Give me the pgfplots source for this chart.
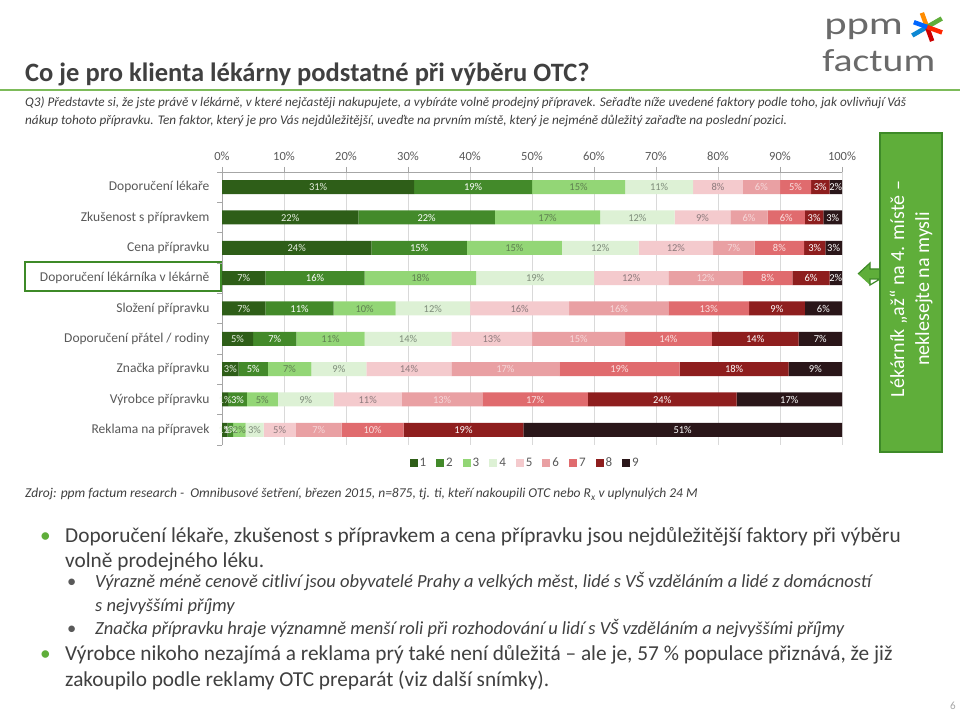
\documentclass[border=0pt]{standalone}
\usepackage{pgfplots}
\pgfplotsset{compat=1.18}
\usepackage{pgfplotstable}
\usepackage{fontspec}
\setmainfont{Carlito}
\definecolor{cA}{HTML}{2E5E18}
\definecolor{cB}{HTML}{438A2A}
\definecolor{cC}{HTML}{93D676}
\definecolor{cD}{HTML}{DDF1D5}
\definecolor{cE}{HTML}{F4CACD}
\definecolor{cF}{HTML}{E9A0A3}
\definecolor{cG}{HTML}{E06B6E}
\definecolor{cH}{HTML}{8E1E1E}
\definecolor{cI}{HTML}{2A1619}
\definecolor{tA}{HTML}{E8F0E2}
\definecolor{tC}{HTML}{5E7F50}
\definecolor{tD}{HTML}{7E8C7A}
\definecolor{tE}{HTML}{8C7A7C}
\definecolor{tF}{HTML}{F6D8DA}
\definecolor{tG}{HTML}{FAE2E2}
\definecolor{txt}{HTML}{404040}
\definecolor{lbl}{HTML}{595959}
\definecolor{axisgray}{HTML}{A6A6A6}
\definecolor{gridgray}{HTML}{D9D9D9}
\definecolor{grn}{HTML}{5FAE3A}
\definecolor{grnd}{HTML}{3E8A28}
\definecolor{lineg}{HTML}{7DBB5A}

\pgfplotstableread{
y  a    b    c    d    e    f    g    h    i
8  31   19   15   11   8    6    5    3    2
7  22   22   17   12   9    6    6    3    3
6  24.1 15.4 15.3 12.4 12.0 6.7  8.0  3.4  2.7
5  7    16   18   19   12   12   8    6    2
4  7    11   10   12   16   16   13   9    6
3  5    7    11   14   13   15   14   14   7
2  2.7  4.7  7.0  8.9  13.7 17.4 19.4 17.6 8.6
1  1    3    5    9    11   13   17   24   17
0  0.9  0.9  2.0  2.9  5.2  7.4  10.0 19.3 51.4
}\data

\newcommand\seg[2]{%
  \addplot[fill=#2, draw=none] table[x=#1,y=y]{\data};
}
\newcommand\lab[3]{%
  \addplot[only marks, mark=*, mark size=0pt, mark options={draw=none, fill=none},
    point meta=\thisrow{#2},
    nodes near coords={\pgfmathprintnumber[fixed,precision=0,assume math mode=true]{\pgfplotspointmeta}\%},
    every node near coord/.style={font=\fontsize{10.5}{11}\selectfont, text=#3, anchor=center, inner sep=0pt},
  ] table[x expr={#1}, y=y]{\data};
}

\begin{document}
\begin{tikzpicture}
\path[use as bounding box] (0,0) rectangle (960pt,714pt);
\fill[white] (0,0) rectangle (960pt,714pt);

% logo
\node[anchor=base west, inner sep=0pt, xscale=1.33, text=lbl!90, font=\fontsize{32}{32}\selectfont] at (824pt,679pt) {ppm};
\node[anchor=base west, inner sep=0pt, xscale=1.24, text=lbl!90, font=\fontsize{32}{32}\selectfont] at (822pt,642pt) {factum};
\begin{scope}[shift={(927pt,687pt)}, line width=4.5pt]
  \draw[orange!90!yellow] (110:15pt) -- (0,0);
  \draw[grn] (30:17pt) -- (0,0);
  \draw[cyan!70!blue] (-150:17pt) -- (0,0);
  \draw[red!80!black] (-70:15pt) -- (0,0);
  \draw[red!70!orange] (-20:16pt) -- (0,0);
  \draw[blue!60!cyan] (160:14pt) -- (0,0);
\end{scope}

% title and line
\node[anchor=base west, inner sep=0pt, text=txt, font=\fontsize{26.5}{26.5}\selectfont\bfseries] at (25pt,632pt) {Co je pro klienta lékárny podstatné při výběru OTC?};
\draw[lineg, line width=1.5pt] (0pt,624pt) -- (960pt,624pt);
\node[anchor=base west, inner sep=0pt, text=txt, font=\fontsize{13.2}{13.2}\selectfont\itshape] at (25pt,607pt) {Q3) Představte si, že jste právě v lékárně, v které nejčastěji nakupujete, a vybíráte volně prodejný přípravek. Seřaďte níže uvedené faktory podle toho, jak ovlivňují Váš};
\node[anchor=base west, inner sep=0pt, text=txt, font=\fontsize{13.2}{13.2}\selectfont\itshape] at (25pt,589pt) {nákup tohoto přípravku. Ten faktor, který je pro Vás nejdůležitější, uveďte na prvním místě, který je nejméně důležitý zařaďte na poslední pozici.};

% highlight box around label
\draw[grnd, line width=2pt] (25pt,423pt) rectangle (221pt,452pt);

\begin{axis}[
  at={(222pt,269pt)}, anchor=south west,
  scale only axis, width=620pt, height=273pt,
  xbar stacked, bar width=14pt,
  xmin=0, xmax=100, ymin=-0.5, ymax=8.5,
  axis x line*=top, axis y line*=left,
  axis line style={draw=axisgray, line width=0.75pt},
  xtick={0,10,...,100},
  xticklabel={\pgfmathprintnumber{\tick}\%},
  /pgf/number format/assume math mode=true,
  xmajorgrids, grid style={draw=gridgray, line width=0.75pt},
  tick align=outside,
  major tick length=5pt,
  minor tick length=5pt,
  major x tick style={draw=axisgray, line width=0.75pt},
  ytick={0,...,8},
  yticklabels={Reklama na přípravek, Výrobce přípravku, Značka přípravku, Doporučení přátel / rodiny, Složení přípravku, Doporučení lékárníka v lékárně, Cena přípravku, Zkušenost s přípravkem, Doporučení lékaře},
  major y tick style={draw=none},
  minor ytick={-0.5,0.5,...,8.5},
  minor y tick style={draw=axisgray, line width=0.75pt},
  xticklabel style={font=\fontsize{12.5}{13}\selectfont, text=lbl, yshift=3pt},
  yticklabel style={font=\fontsize{13.5}{14}\selectfont, text=lbl, xshift=-4pt},
  legend columns=9,
  legend style={at={(0.489,-0.066)}, anchor=center, draw=none, fill=none,
    font=\fontsize{13}{13}\selectfont, text=lbl,
    /tikz/every even column/.append style={column sep=8pt}},
  legend image code/.code={\fill[#1] (0pt,-4pt) rectangle (8pt,4pt);},
]
\seg{a}{cA}
\seg{b}{cB}
\seg{c}{cC}
\seg{d}{cD}
\seg{e}{cE}
\seg{f}{cF}
\seg{g}{cG}
\seg{h}{cH}
\seg{i}{cI}
\legend{1,2,3,4,5,6,7,8,9}
\end{axis}

\begin{axis}[
  at={(222pt,269pt)}, anchor=south west,
  scale only axis, width=620pt, height=273pt,
  xmin=0, xmax=100, ymin=-0.5, ymax=8.5,
  hide axis, clip=false,
  /pgf/number format/assume math mode=true,
]
\lab{\thisrow{a}/2}{a}{tA}
\lab{\thisrow{a}+\thisrow{b}/2}{b}{white}
\lab{\thisrow{a}+\thisrow{b}+\thisrow{c}/2}{c}{tC}
\lab{\thisrow{a}+\thisrow{b}+\thisrow{c}+\thisrow{d}/2}{d}{tD}
\lab{\thisrow{a}+\thisrow{b}+\thisrow{c}+\thisrow{d}+\thisrow{e}/2}{e}{tE}
\lab{\thisrow{a}+\thisrow{b}+\thisrow{c}+\thisrow{d}+\thisrow{e}+\thisrow{f}/2}{f}{tF}
\lab{\thisrow{a}+\thisrow{b}+\thisrow{c}+\thisrow{d}+\thisrow{e}+\thisrow{f}+\thisrow{g}/2}{g}{tG}
\lab{\thisrow{a}+\thisrow{b}+\thisrow{c}+\thisrow{d}+\thisrow{e}+\thisrow{f}+\thisrow{g}+\thisrow{h}/2}{h}{white}
\lab{\thisrow{a}+\thisrow{b}+\thisrow{c}+\thisrow{d}+\thisrow{e}+\thisrow{f}+\thisrow{g}+\thisrow{h}+\thisrow{i}/2}{i}{white}
\end{axis}

% right callout box
\fill[grn] (858pt,440pt) -- (870pt,451pt) -- (870pt,445pt) -- (881pt,445pt) -- (881pt,435pt) -- (870pt,435pt) -- (870pt,429pt) -- cycle;
\draw[grnd, line width=1.2pt] (858pt,440pt) -- (870pt,451pt) -- (870pt,445pt) -- (880pt,445pt) (880pt,435pt) -- (870pt,435pt) -- (870pt,429pt) -- cycle;
\draw[grnd, fill=grn, line width=1.5pt] (880pt,262pt) rectangle (942pt,581pt);
\node[rotate=90, text=white, align=center, inner sep=0pt, font=\fontsize{20}{25}\selectfont] at (911pt,425pt) {Lékárník „až“ na 4. místě –\\neklesejte na mysli};

% source
\node[anchor=base west, inner sep=0pt, text=txt, font=\fontsize{13.5}{14}\selectfont\itshape] at (25pt,216pt) {Zdroj: ppm factum research -~~Omnibusové šetření, březen 2015, n=875, tj. ti, kteří nakoupili OTC nebo R\textsubscript{x} v uplynulých 24 M};

% bullets
\node[anchor=base west, inner sep=0pt, text=grn, font=\fontsize{21.3}{22}\selectfont] at (40pt,171pt) {•};
\node[anchor=base west, inner sep=0pt, text=txt, font=\fontsize{21.3}{22}\selectfont] at (65pt,171pt) {Doporučení lékaře, zkušenost s přípravkem a cena přípravku jsou nejdůležitější faktory při výběru};
\node[anchor=base west, inner sep=0pt, text=txt, font=\fontsize{21.3}{22}\selectfont] at (65pt,146pt) {volně prodejného léku.};
\node[anchor=base west, inner sep=0pt, text=lbl, font=\fontsize{18.5}{19}\selectfont] at (67pt,126pt) {•};
\node[anchor=base west, inner sep=0pt, text=txt, font=\fontsize{18.5}{19}\selectfont\itshape] at (95pt,126pt) {Výrazně méně cenově citliví jsou obyvatelé Prahy a velkých měst, lidé s VŠ vzděláním a lidé z domácností};
\node[anchor=base west, inner sep=0pt, text=txt, font=\fontsize{18.5}{19}\selectfont\itshape] at (95pt,102pt) {s nejvyššími příjmy};
\node[anchor=base west, inner sep=0pt, text=lbl, font=\fontsize{18.5}{19}\selectfont] at (67pt,79pt) {•};
\node[anchor=base west, inner sep=0pt, text=txt, font=\fontsize{18.5}{19}\selectfont\itshape] at (95pt,79pt) {Značka přípravku hraje významně menší roli při rozhodování u lidí s VŠ vzděláním a nejvyššími příjmy};
\node[anchor=base west, inner sep=0pt, text=grn, font=\fontsize{21.3}{22}\selectfont] at (40pt,53pt) {•};
\node[anchor=base west, inner sep=0pt, text=txt, font=\fontsize{21.3}{22}\selectfont] at (65pt,53pt) {Výrobce nikoho nezajímá a reklama prý také není důležitá – ale je, 57 \% populace přiznává, že již};
\node[anchor=base west, inner sep=0pt, text=txt, font=\fontsize{21.3}{22}\selectfont] at (65pt,27pt) {zakoupilo podle reklamy OTC preparát (viz další snímky).};

\node[anchor=base east, inner sep=0pt, text=axisgray, font=\fontsize{11}{11}\selectfont] at (956pt,4pt) {6};
\end{tikzpicture}
\end{document}
